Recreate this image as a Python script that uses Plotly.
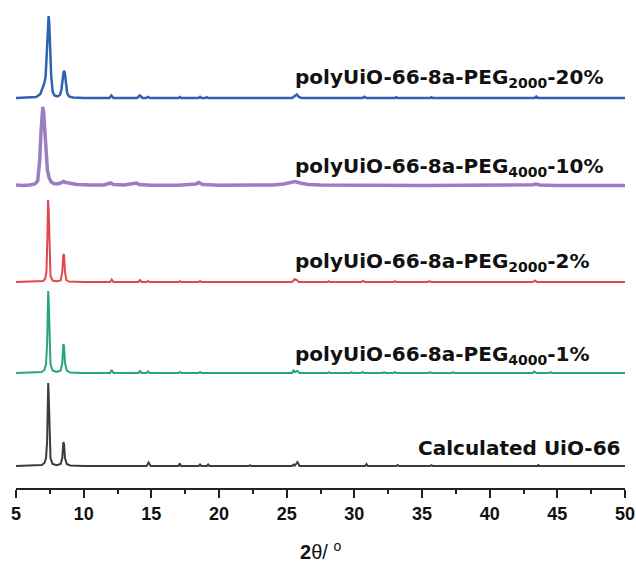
import plotly.graph_objects as go

# ---- data (intensity above each trace's own baseline, arbitrary units) ----
CALC_PTS = [(5.0, 0), (6.5, 0.3), (6.9, 1), (7.1, 3), (7.22, 8), (7.3, 25), (7.35, 60), (7.38, 83), (7.42, 70),
            (7.47, 30), (7.55, 8), (7.7, 2), (8.0, 0.8), (8.3, 2), (8.42, 8), (8.5, 24), (8.55, 22), (8.62, 8),
            (8.75, 2), (9.0, 0.5), (10.0, 0), (14.65, 0), (14.8, 3.5), (14.95, 0), (17.0, 0), (17.1, 2.5),
            (17.2, 0), (18.5, 0), (18.6, 1.5), (18.7, 0), (19.1, 0), (19.2, 1.5), (19.3, 0), (22.2, 0),
            (22.3, 0.6), (22.4, 0), (25.4, 0), (25.5, 1.5), (25.6, 0.5), (25.8, 4), (25.95, 0), (30.8, 0),
            (30.9, 2), (31.0, 0), (33.1, 0), (33.2, 1), (33.3, 0), (35.6, 0), (35.7, 0.8), (35.8, 0),
            (43.5, 0), (43.6, 1), (43.7, 0), (50.0, 0)]

GREEN_PTS = [(5.0, 0), (6.5, 0.3), (6.9, 1), (7.1, 3), (7.22, 9), (7.3, 30), (7.35, 65), (7.38, 82), (7.42, 70),
             (7.47, 32), (7.55, 9), (7.7, 2.5), (8.0, 1), (8.3, 2.5), (8.42, 10), (8.5, 29), (8.55, 27),
             (8.62, 10), (8.75, 2.5), (9.0, 0.5), (10.0, 0), (11.95, 0), (12.07, 3), (12.2, 0), (14.05, 0),
             (14.17, 2), (14.3, 0), (14.65, 0), (14.76, 1.5), (14.87, 0), (17.0, 0), (17.1, 1), (17.2, 0),
             (18.5, 0), (18.6, 1), (18.7, 0), (25.4, 0), (25.5, 2.5), (25.6, 1), (25.8, 2), (25.95, 0),
             (28.0, 0), (28.1, 0.8), (28.2, 0), (29.7, 0), (29.8, 0.8), (29.9, 0), (30.5, 0), (30.6, 1),
             (30.7, 0), (32.1, 0), (32.2, 0.8), (32.3, 0), (32.9, 0), (33.0, 1), (33.1, 0), (35.5, 0),
             (35.6, 0.8), (35.7, 0), (37.2, 0), (37.3, 0.7), (37.4, 0), (39.3, 0), (39.4, 0.7), (39.5, 0),
             (40.5, 0), (40.6, 0.7), (40.7, 0), (43.2, 0), (43.3, 1.5), (43.45, 0), (44.4, 0), (44.5, 0.8),
             (44.6, 0), (50.0, 0)]

RED_PTS = [(5.0, 0), (6.5, 0.3), (7.0, 1), (7.15, 3), (7.25, 10), (7.32, 45), (7.37, 82), (7.42, 70),
           (7.47, 30), (7.55, 6), (7.7, 1.5), (8.0, 0.8), (8.3, 1.5), (8.42, 10), (8.5, 28), (8.55, 27),
           (8.62, 10), (8.72, 2), (8.9, 0.5), (10.0, 0), (11.95, 0), (12.07, 2.5), (12.2, 0), (14.05, 0),
           (14.17, 2), (14.3, 0), (14.65, 0), (14.76, 1), (14.87, 0), (17.0, 0), (17.1, 0.8), (17.2, 0),
           (18.5, 0), (18.6, 1), (18.7, 0), (25.4, 0), (25.6, 3), (25.75, 2), (25.9, 0), (28.0, 0),
           (28.1, 0.8), (28.2, 0), (30.5, 0), (30.65, 1.2), (30.8, 0), (32.9, 0), (33.0, 0.8), (33.1, 0),
           (35.4, 0), (35.55, 0.8), (35.7, 0), (43.2, 0), (43.35, 1.5), (43.5, 0), (50.0, 0)]

PURPLE_PTS = [(5.0, 1), (5.5, 0.5), (6.0, 1), (6.4, 2), (6.6, 5), (6.75, 25), (6.85, 55), (6.93, 76),
              (6.98, 79), (7.04, 74), (7.12, 55), (7.22, 32), (7.32, 16), (7.45, 8), (7.6, 4), (7.8, 2.5),
              (8.0, 2), (8.3, 3), (8.5, 4.5), (8.7, 3.5), (9.0, 2.5), (9.5, 1.5), (10.5, 1), (11.5, 1),
              (12.0, 3), (12.2, 1.5), (13.0, 1), (13.9, 3), (14.1, 1.5), (15.0, 0.8), (17.0, 0.8), (18.3, 2),
              (18.5, 3.5), (18.8, 1.5), (20.0, 0.8), (22.0, 0.8), (24.0, 1), (24.8, 2), (25.3, 4),
              (25.6, 4.5), (26.0, 3), (26.6, 1.5), (27.5, 1), (30.6, 0.8), (30.8, 1.5), (31.0, 0.8),
              (35.0, 0.6), (43.2, 1.2), (43.4, 2), (43.7, 1), (45.0, 0.5), (50.0, 0.5)]

BLUE_PTS = [(5.0, 0), (6.0, 0.5), (6.5, 1), (6.8, 4), (6.95, 10), (7.02, 13), (7.1, 15), (7.19, 22),
            (7.28, 50), (7.35, 75), (7.41, 82), (7.46, 74), (7.52, 50), (7.6, 22), (7.71, 6), (7.85, 2.5),
            (8.05, 1.5), (8.25, 3), (8.35, 8), (8.45, 20), (8.53, 27), (8.6, 26), (8.68, 16), (8.78, 5),
            (8.92, 1.5), (9.2, 0.5), (10.0, 0), (11.9, 0), (12.05, 2.5), (12.2, 0), (13.95, 0), (14.15, 2.5),
            (14.35, 0), (14.6, 0), (14.75, 1), (14.9, 0), (17.0, 0), (17.1, 1), (17.2, 0), (18.5, 0),
            (18.6, 1.2), (18.7, 0), (19.0, 0), (19.1, 0.8), (19.2, 0), (25.4, 0), (25.6, 2), (25.75, 3.5),
            (25.9, 1), (26.1, 0), (30.6, 0), (30.75, 1.2), (30.9, 0), (33.0, 0), (33.1, 0.8), (33.2, 0),
            (35.6, 0), (35.7, 0.8), (35.8, 0), (43.3, 0), (43.45, 1.5), (43.6, 0), (50.0, 0)]

SERIES_NAMES = ["Calculated UiO-66",
                "polyUiO-66-8a-PEG<sub>4000</sub>-1%",
                "polyUiO-66-8a-PEG<sub>2000</sub>-2%",
                "polyUiO-66-8a-PEG<sub>4000</sub>-10%",
                "polyUiO-66-8a-PEG<sub>2000</sub>-20%"]
SERIES_PTS = [CALC_PTS, GREEN_PTS, RED_PTS, PURPLE_PTS, BLUE_PTS]

X_TICKS = [5, 10, 15, 20, 25, 30, 35, 40, 45, 50]
X_TITLE = "<b>2</b>θ/ <sup>o</sup>"

# ---- presentation ----
OFFSETS = [22, 115, 206, 302, 390]
COLORS = ["#3b3b40", "#27a773", "#e2474c", "#9b7dc6", "#2e63b3"]
WIDTHS = [2, 2, 2, 3.5, 2.5]
LABEL_Y = [40, 133, 226, 321, 410]

fig = go.Figure()
for pts, off, col, w in zip(SERIES_PTS, OFFSETS, COLORS, WIDTHS):
    xs = [p[0] for p in pts]
    ys = [p[1] + off for p in pts]
    fig.add_trace(go.Scatter(x=xs, y=ys, mode="lines", line=dict(color=col, width=w),
                             showlegend=False, hoverinfo="skip"))

FONT = "Liberation Sans, Arial, sans-serif"
LFONT = "DejaVu Sans, Liberation Sans, sans-serif"
for i, (name, ly) in enumerate(zip(SERIES_NAMES, LABEL_Y)):
    if i == 0:
        fig.add_annotation(x=49.8, y=ly, text="<b>" + name + "</b>", showarrow=False,
                           xanchor="right", yanchor="middle", font=dict(family=LFONT, size=20, color="#111"))
    else:
        fig.add_annotation(x=25.47, y=ly, text="<b>" + name + "</b>", showarrow=False,
                           xanchor="left", yanchor="middle", font=dict(family=LFONT, size=20, color="#111"))

# x-axis title placed below the tick labels
fig.add_annotation(x=0.5, xref="paper", y=0, yref="paper", yshift=-62, text=X_TITLE, showarrow=False,
                   xanchor="center", yanchor="middle", font=dict(family=FONT, size=20, color="#111"))

fig.update_layout(
    width=636, height=562,
    margin=dict(l=16, r=11, t=10, b=74),
    paper_bgcolor="white", plot_bgcolor="white",
    xaxis=dict(range=[5, 50], tickvals=X_TICKS, ticktext=["<b>%d</b>" % v for v in X_TICKS],
               showline=True, linewidth=2, linecolor="#222", ticks="outside", ticklen=8,
               tickwidth=2, tickcolor="#222", showgrid=False, zeroline=False,
               tickfont=dict(family=FONT, size=18, color="#111"), ticklabelstandoff=0,
               minor=dict(ticks="outside", ticklen=4, tickwidth=2, tickcolor="#222", dtick=2.5, tick0=5),
               automargin=False),
    yaxis=dict(range=[0, 478], visible=False, showgrid=False, zeroline=False),
)

# remove the browser's default page margin so the figure fills the window exactly
fig.write_html("out.html", config={"displayModeBar": False, "staticPlot": True},
               post_script="document.body.style.margin='0';document.body.style.overflow='hidden';")
